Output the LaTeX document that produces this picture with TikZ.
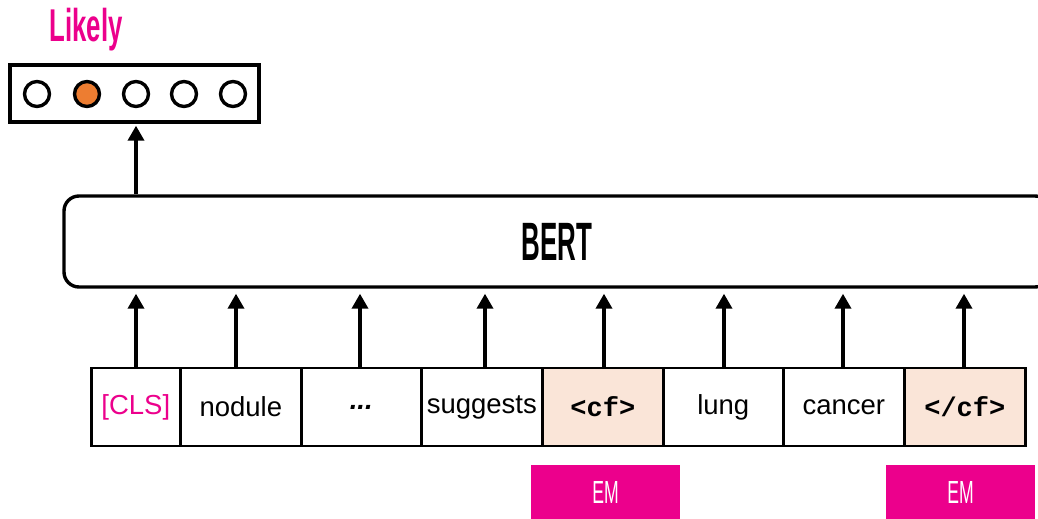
\documentclass[tikz,border=0pt]{standalone}
\usepackage{fontspec}
\setmainfont{Liberation Sans}
\newfontfamily\monob{Liberation Mono}
\usetikzlibrary{arrows.meta}
\definecolor{mag}{HTML}{EC008C}
\definecolor{peach}{HTML}{FAE5D8}
\definecolor{dot}{HTML}{ED7D31}
\newcommand{\cond}[2]{\scalebox{#1}[1]{#2}}
\tikzset{
  arr/.style={line width=3.6pt,-{Triangle[width=16pt,length=15pt]},shorten >=5pt},
  tok/.style={draw,line width=2.6pt,minimum height=78pt,inner sep=0pt,font=\fontsize{27.5}{30}\selectfont,anchor=west},
  cfbox/.style={tok,fill=peach},
  embox/.style={fill=mag,minimum width=149pt,minimum height=54pt,inner sep=0pt,text=white,font=\fontsize{32}{34}\selectfont},
  circ/.style={circle,draw,line width=3.4pt,minimum size=25pt,inner sep=0pt}
}
\begin{document}
\begin{tikzpicture}[x=1pt,y=-1pt]
\clip (0,0) rectangle (1038,519);
\fill[white] (0,0) rectangle (1038,519);
% title
\node[text=mag,font=\fontsize{46}{48}\selectfont\bfseries] (likely) at (86,30) {\cond{0.56}{Likely}};
% output box
\node[draw,line width=3.4pt,minimum width=249pt,minimum height=57pt,inner sep=0pt] (out) at (134.5,93.5) {};
\node[circ] (c1) at (37,94) {};
\node[circ,fill=dot] (c2) at (87,94) {};
\node[circ] (c3) at (136,94) {};
\node[circ] (c4) at (184,94) {};
\node[circ] (c5) at (233,94) {};
% BERT
\node[draw,line width=3.4pt,rounded corners=15pt,minimum width=986pt,minimum height=91pt,inner sep=0pt,font=\fontsize{54}{56}\selectfont\bfseries] (bert) at (557,241.5) {\cond{0.48}{BERT}};
% tokens
\node[tok,minimum width=89pt,text=mag] (t1) at (90,407) {[CLS]};
\node[tok,minimum width=121pt] (t2) at (179,407) {nodule};
\node[tok,minimum width=120pt,font=\fontsize{27.5}{30}\selectfont\bfseries\itshape] (t3) at (300,407) {...};
\node[tok,minimum width=121pt] (t4) at (420,407) {suggests};
\node[cfbox,minimum width=121pt,font=\fontsize{27}{30}\monob\bfseries] (t5) at (541,407) {<cf>};
\node[tok,minimum width=120pt] (t6) at (662,407) {lung};
\node[tok,minimum width=121pt] (t7) at (782,407) {cancer};
\node[cfbox,minimum width=121pt,font=\fontsize{27}{30}\monob\bfseries] (t8) at (903,407) {</cf>};
% EM
\node[embox] (em1) at (605.5,492) {\cond{0.55}{EM}};
\node[embox] (em2) at (960.5,492) {\cond{0.55}{EM}};
% arrows
\foreach \i/\xx in {1/136,2/236,3/360,4/485,5/604,6/724,7/843,8/964}{
  \draw[arr] (\xx,368) coordinate (s\i) -- (s\i |- bert.south);
}
\draw[arr,shorten >=2pt] (bert.north -| c3) -- (c3 |- out.south);
\end{tikzpicture}
\end{document}
